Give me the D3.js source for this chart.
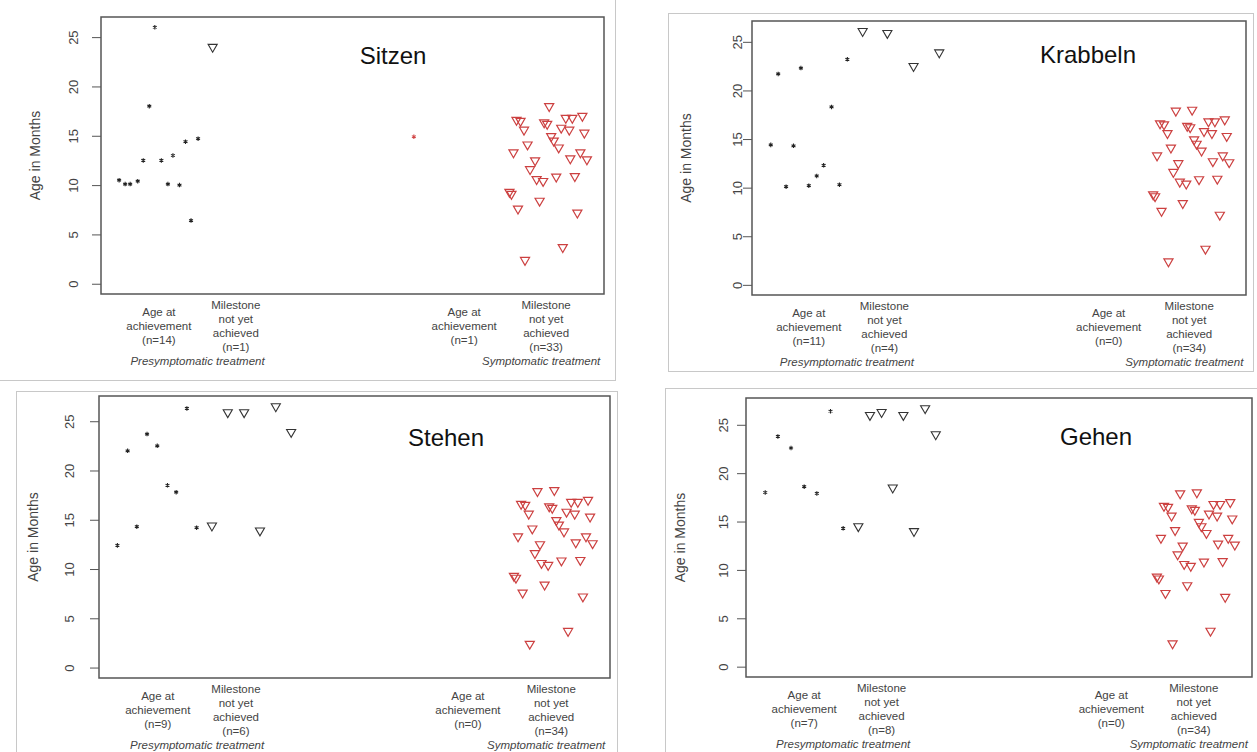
<!DOCTYPE html>
<html>
<head>
<meta charset="utf-8">
<script src="https://cdn.jsdelivr.net/npm/d3@7"></script>
<style>
  body { margin: 0; background: #fff; }
  svg { display: block; font-family: "Liberation Sans", Arial, sans-serif; }
  .tick line { stroke: #555; }
  .tick text { fill: #444; font-size: 13px; }
</style>
</head>
<body>
<div id="chart"></div>
<script>
// panel titles (milestones)
const panelTitles = ["Sitzen", "Krabbeln", "Stehen", "Gehen"];
const yTicks = [0, 5, 10, 15, 20, 25];

// presymptomatic treatment, age at achievement (months) and strip position
const preAchAge = [
  [10.5, 10.1, 10.1, 10.4, 12.5, 18.0, 26.0, 12.5, 10.1, 13.0, 10.0, 14.4, 6.4, 14.7],
  [14.4, 21.7, 10.1, 14.3, 22.3, 10.2, 11.2, 12.3, 18.3, 10.3, 23.2],
  [12.4, 22.0, 14.3, 23.7, 22.5, 18.5, 17.8, 26.3, 14.2],
  [18.0, 23.8, 22.6, 18.6, 17.9, 26.4, 14.3]
];
const preAchPos = [
  [0.36, 0.48, 0.58, 0.73, 0.84, 0.96, 1.07, 1.20, 1.33, 1.43, 1.56, 1.68, 1.79, 1.93],
  [0.38, 0.53, 0.69, 0.84, 0.99, 1.15, 1.31, 1.45, 1.61, 1.77, 1.93],
  [0.36, 0.56, 0.74, 0.94, 1.14, 1.34, 1.51, 1.72, 1.91],
  [0.38, 0.63, 0.89, 1.15, 1.40, 1.67, 1.92]
];

// presymptomatic treatment, milestone not yet achieved (current age)
const preNotAge = [
  [24.0],
  [26.1, 25.9, 22.5, 23.9],
  [14.4, 25.9, 25.9, 13.9, 26.5, 23.9],
  [14.5, 26.0, 26.3, 18.5, 26.0, 14.0, 26.7, 24.0]
];
const preNotPos = [
  [2.22],
  [2.24, 2.74, 3.27, 3.79],
  [2.21, 2.52, 2.84, 3.15, 3.46, 3.76],
  [2.22, 2.45, 2.68, 2.90, 3.11, 3.32, 3.54, 3.75]
];

// symptomatic treatment, age at achievement
const symAchAge = [[14.9], [], [], []];
const symAchPos = [[6.22], [], [], []];

// symptomatic treatment, not yet achieved (same children in every panel)
const symNotAge = [17.9, 18.0, 16.6, 16.5, 15.6, 16.35, 16.2, 16.8, 16.8, 17.0,
  15.8, 15.6, 15.3, 14.95, 14.5, 13.8, 14.1, 13.3, 12.5, 11.6,
  12.7, 13.3, 12.6, 10.6, 10.4, 10.85, 10.9, 9.3, 9.1, 7.6,
  8.4, 7.2, 3.7, 2.4];
const symNotPos = [8.58, 8.91, 8.26, 8.34, 8.41, 8.81, 8.87, 9.24, 9.37, 9.57,
  9.15, 9.31, 9.61, 8.95, 9.00, 9.10, 8.48, 8.20, 8.63, 8.53,
  9.33, 9.53, 9.66, 8.66, 8.79, 9.05, 9.42, 8.12, 8.16, 8.29,
  8.72, 9.47, 9.18, 8.43];
// child who achieved sitting is not in the Sitzen "not yet" group
const symNotSkip = [[0], [], [], []];

const groupLabelPos = [1.15, 2.68, 7.22, 8.85];
const treatLabelPos = [1.92, 8.75];
const treatLabels = ["Presymptomatic treatment", "Symptomatic treatment"];

const W = 1257, H = 752;
const layout = [
  { frame: [-1, -1, 615, 380], box: [101, 17, 604, 294], tickOff: 28, title: [393, 64] },
  { frame: [668, 13, 1253, 371], box: [752, 21, 1246, 295], tickOff: 15, title: [1088, 63] },
  { frame: [16, 391, 617, 770], box: [99, 396, 610, 678], tickOff: 30, title: [446, 446] },
  { frame: [665, 388, 1270, 770], box: [746, 398, 1252, 677], tickOff: 23, title: [1096, 445] }
];

const svg = d3.select("#chart").append("svg").attr("width", W).attr("height", H);

const star = d3.symbol().type(d3.symbolAsterisk).size(14);
const tri = d3.symbol().type(d3.symbolTriangle).size(36);

layout.forEach((L, p) => {
  const [x0, y0, x1, y1] = L.box;
  const g = svg.append("g");

  // pasted-image frame
  g.append("rect")
    .attr("x", L.frame[0] + 0.5).attr("y", L.frame[1] + 0.5)
    .attr("width", L.frame[2] - L.frame[0]).attr("height", L.frame[3] - L.frame[1])
    .attr("fill", "none").attr("stroke", "#c8c8c8");

  const symNot = symNotAge.map((v, i) => ({ v: v, u: symNotPos[i], i: i }))
    .filter(d => !symNotSkip[p].includes(d.i));
  const allVals = preAchAge[p].concat(preNotAge[p], symAchAge[p], symNot.map(d => d.v));
  const top = d3.max(allVals);

  const x = d3.scaleLinear().domain([0, 10]).range([x0, x1]);
  const y = d3.scaleLinear().domain([-0.04 * top, 1.04 * top]).range([y1, y0]);

  // y axis
  const ax = g.append("g")
    .attr("transform", "translate(" + x0 + ",0)")
    .call(d3.axisLeft(y).tickValues(yTicks).tickSize(9));
  ax.select(".domain").remove();
  ax.selectAll("text")
    .attr("x", null).attr("dy", null)
    .attr("transform", "translate(" + (-L.tickOff) + ",0) rotate(-90)")
    .attr("text-anchor", "middle")
    .attr("dominant-baseline", "central");

  g.append("text")
    .attr("transform", "translate(" + (x0 - 66) + "," + ((y0 + y1) / 2) + ") rotate(-90)")
    .attr("text-anchor", "middle").attr("dominant-baseline", "central")
    .attr("font-size", 14).attr("fill", "#444")
    .text("Age in Months");

  // plot box
  g.append("rect")
    .attr("x", x0).attr("y", y0).attr("width", x1 - x0).attr("height", y1 - y0)
    .attr("fill", "none").attr("stroke", "#555").attr("stroke-width", 1.5);

  g.append("text")
    .attr("x", L.title[0]).attr("y", L.title[1])
    .attr("text-anchor", "middle").attr("font-size", 24).attr("fill", "#111")
    .text(panelTitles[p]);

  // points
  g.selectAll(".preach").data(preAchAge[p]).enter().append("path")
    .attr("d", star)
    .attr("transform", (d, i) => "translate(" + x(preAchPos[p][i]) + "," + y(d) + ")")
    .attr("fill", "none").attr("stroke", "#222").attr("stroke-width", 1.1);

  g.selectAll(".prenot").data(preNotAge[p]).enter().append("path")
    .attr("d", tri)
    .attr("transform", (d, i) => "translate(" + x(preNotPos[p][i]) + "," + y(d) + ") rotate(180)")
    .attr("fill", "none").attr("stroke", "#333").attr("stroke-width", 1.1);

  g.selectAll(".symach").data(symAchAge[p]).enter().append("path")
    .attr("d", star)
    .attr("transform", (d, i) => "translate(" + x(symAchPos[p][i]) + "," + y(d) + ")")
    .attr("fill", "none").attr("stroke", "#d04545").attr("stroke-width", 1.1);

  g.selectAll(".symnot").data(symNot).enter().append("path")
    .attr("d", tri)
    .attr("transform", d => "translate(" + x(d.u) + "," + y(d.v) + ") rotate(180)")
    .attr("fill", "none").attr("stroke", "#cc4040").attr("stroke-width", 1.2);

  // group labels under the box
  const ns = [preAchAge[p].length, preNotAge[p].length, symAchAge[p].length, symNot.length];
  ns.forEach((n, k) => {
    const lines = (k % 2 === 0 ? ["Age at", "achievement"] : ["Milestone", "not yet", "achieved"])
      .concat(["(n=" + n + ")"]);
    const first = 32 - (lines.length - 1) * 7;
    const t = g.append("text")
      .attr("text-anchor", "middle").attr("font-size", 11.5).attr("fill", "#444");
    lines.forEach((s, j) => {
      t.append("tspan")
        .attr("x", x(groupLabelPos[k]))
        .attr("y", y1 + first + j * 14)
        .attr("dominant-baseline", "central")
        .text(s);
    });
  });

  treatLabels.forEach((s, k) => {
    g.append("text")
      .attr("x", x(treatLabelPos[k])).attr("y", y1 + 67)
      .attr("text-anchor", "middle").attr("dominant-baseline", "central")
      .attr("font-size", 11.5).attr("font-style", "italic").attr("fill", "#444")
      .text(s);
  });
});
</script>
</body>
</html>
